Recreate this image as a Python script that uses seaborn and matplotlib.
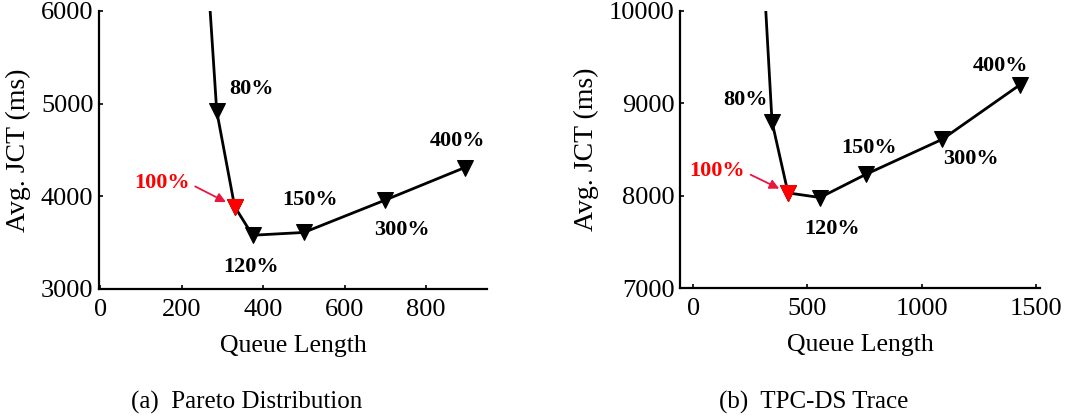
import matplotlib
matplotlib.use("Agg")
import matplotlib.pyplot as plt
import seaborn as sns
import pandas as pd

# Queue length scaling factors (first one lies above the plotted range)
scales = ["60%", "80%", "100%", "120%", "150%", "300%", "400%"]

# (a) Pareto distribution
pareto_queue = [252, 286, 330, 374, 500, 700, 895]
pareto_jct = [7200, 4920, 3890, 3580, 3610, 3960, 4310]

# (b) TPC-DS trace
tpcds_queue = [295, 345, 415, 555, 755, 1090, 1430]
tpcds_jct = [11000, 8800, 8030, 7980, 8230, 8610, 9200]

highlight = "100%"

sns.set_theme(style="ticks")
plt.rcParams["font.family"] = ["Liberation Serif", "DejaVu Serif"]
plt.rcParams.update({"text.color": "black", "axes.labelcolor": "black",
                     "xtick.color": "black", "ytick.color": "black"})

fig = plt.figure(figsize=(10.79, 4.19), dpi=100)
ax_a = fig.add_axes([0.0918, 0.3103, 0.3596, 0.6635])
ax_b = fig.add_axes([0.6302, 0.3126, 0.3336, 0.6612])

# label offsets in pixels relative to each marker
offsets_a = {"80%": (35, 22), "100%": (-73, 24), "120%": (-1, -32),
             "150%": (6, 32), "300%": (17, -30), "400%": (-7, 27)}
offsets_b = {"80%": (-27, 22), "100%": (-71, 22), "120%": (12, -31),
             "150%": (3, 26), "300%": (29, -20), "400%": (-19, 19)}


def draw(ax, queue, jct, offsets, xlim, ylim, xticks, yticks):
    df = pd.DataFrame({"queue": queue, "jct": jct, "scale": scales})
    sns.lineplot(data=df, x="queue", y="jct", sort=False, color="black",
                 linewidth=2.0, marker="v", markersize=11,
                 markeredgecolor="black", ax=ax)
    hl = df[df["scale"] == highlight]
    sns.lineplot(data=hl, x="queue", y="jct", color="red", linestyle="none",
                 marker="v", markersize=11, markeredgecolor="red", ax=ax)
    for _, row in df.iterrows():
        if row["scale"] not in offsets:
            continue
        dx, dy = offsets[row["scale"]]
        if row["scale"] == highlight:
            ax.annotate(row["scale"], xy=(row["queue"], row["jct"]),
                        xytext=(dx, dy), textcoords="offset pixels",
                        ha="center", va="center", fontsize=16,
                        fontweight="bold", color="red",
                        arrowprops=dict(arrowstyle="-|>", color="#e8173f",
                                        lw=1.3, relpos=(1.0, 0.45),
                                        shrinkA=2, shrinkB=7,
                                        mutation_scale=14))
        else:
            ax.annotate(row["scale"], xy=(row["queue"], row["jct"]),
                        xytext=(dx, dy), textcoords="offset pixels",
                        ha="center", va="center", fontsize=16,
                        fontweight="bold", color="black")
    ax.set_xlim(*xlim)
    ax.set_ylim(*ylim)
    ax.set_xticks(xticks)
    ax.set_yticks(yticks)
    ax.tick_params(direction="in", length=3, width=1.2, labelsize=19,
                   colors="black")
    ax.tick_params(axis="x", pad=7)
    ax.tick_params(axis="y", pad=4)
    ax.set_xlabel("Queue Length", fontsize=18.5, labelpad=10)
    ax.set_ylabel("Avg. JCT (ms)", fontsize=20, labelpad=7)
    sns.despine(ax=ax)
    for s in ("left", "bottom"):
        ax.spines[s].set_linewidth(1.6)
        ax.spines[s].set_color("black")


draw(ax_a, pareto_queue, pareto_jct, offsets_a, (-3, 950), (3000, 6000),
     [0, 200, 400, 600, 800], [3000, 4000, 5000, 6000])
draw(ax_b, tpcds_queue, tpcds_jct, offsets_b, (-58, 1518), (7000, 10000),
     [0, 500, 1000, 1500], [7000, 8000, 9000, 10000])

fig.text(0.229, 0.04, "(a)  Pareto Distribution", ha="center", va="center",
         fontsize=18, transform=fig.transFigure)
fig.text(0.754, 0.04, "(b)  TPC-DS Trace", ha="center", va="center",
         fontsize=18, transform=fig.transFigure)

fig.savefig("out.png", dpi=100)
